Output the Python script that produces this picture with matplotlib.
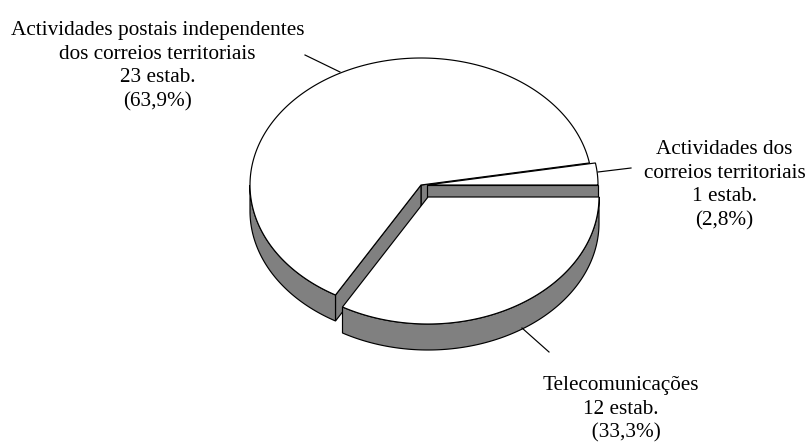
import numpy as np
import matplotlib
matplotlib.use("Agg")
import matplotlib.pyplot as plt

categories = ["Actividades postais independentes\ndos correios territoriais",
              "Actividades dos\ncorreios territoriais",
              "Telecomunicações"]
estab = [23, 1, 12]
pct_labels = ["(63,9%)", "(2,8%)", "  (33,3%)"]

plt.rcParams['font.family'] = ['Liberation Serif', 'DejaVu Serif']
fig = plt.figure(figsize=(8.09, 4.43), dpi=100)
ax = fig.add_axes([0, 0, 1, 1])
ax.set_xlim(0, 809); ax.set_ylim(443, 0); ax.axis('off')

RX, RY, DEPTH = 171, 127, 26
GRAY = '#808080'
LW = 0.85
deg = 360 / sum(estab)
a_small = estab[1] * deg
a_big_end = a_small + estab[0] * deg

def pt(c, a):
    t = np.radians(a)
    return np.array([c[0] + RX*np.cos(t), c[1] - RY*np.sin(t)])

def arc(c, a0, a1):
    t = np.radians(np.linspace(a0, a1, 200))
    return np.column_stack([c[0] + RX*np.cos(t), c[1] - RY*np.sin(t)])

def top(c, a0, a1, z):
    a = arc(c, a0, a1)
    ax.fill(*np.vstack([c, a]).T, fc='white', ec='black', lw=LW, zorder=z, joinstyle='miter')

def outer_wall(c, a0, a1, z):
    a = arc(c, a0, a1)
    b = a[::-1] + [0, DEPTH]
    ax.fill(*np.vstack([a, b]).T, fc=GRAY, ec='black', lw=LW, zorder=z)

def radial_wall(c, a, z):
    p = pt(c, a)
    q = np.array([c, p, p + [0, DEPTH], np.array(c) + [0, DEPTH]])
    ax.fill(*q.T, fc=GRAY, ec='black', lw=LW, zorder=z)

c_big, c_small, c_tel = (421, 185), (427, 185), (428, 197)

# large slice
radial_wall(c_big, a_small, 1)
radial_wall(c_big, a_big_end, 1)
outer_wall(c_big, 180, a_big_end, 1)
top(c_big, a_small, a_big_end, 2)
# small slice
radial_wall(c_small, 0, 3)
top(c_small, 0, a_small, 4)
# telecom slice
outer_wall(c_tel, a_big_end, 360, 5)
top(c_tel, a_big_end, 360, 6)

# leader lines
for xs, ys in [((305, 340), (55, 72)), ((598, 631), (172, 168)), ((522, 549), (328, 352))]:
    ax.plot(xs, ys, color='black', lw=0.85, zorder=7)

# labels
pos = [(157.5, 66), (724.5, 185), (621, 409.5)]
for cat, n, p, (x, y) in zip(categories, estab, pct_labels, pos):
    ax.text(x, y, f"{cat}\n{n} estab.\n{p}", ha='center', va='center',
            fontsize=15.3, color='black', linespacing=1.33, zorder=8)

fig.savefig("out.png", dpi=100)
